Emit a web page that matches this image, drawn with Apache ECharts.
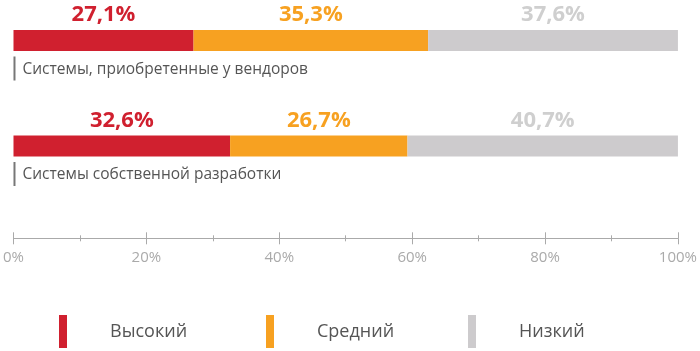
<!DOCTYPE html>
<html>
<head>
<meta charset="utf-8">
<script src="https://cdn.jsdelivr.net/npm/echarts@6/dist/echarts.min.js"></script>
<style>
    html, body { margin: 0; padding: 0; background: #fff; }
    #chart { width: 700px; height: 351px; }
</style>
</head>
<body>
<div id="chart"></div>
<script>
const categories = ['Системы, приобретенные у вендоров', 'Системы собственной разработки'];
const seriesNames = ['Высокий', 'Средний', 'Низкий'];
const high = [27.1, 32.6];
const medium = [35.3, 26.7];
const low = [37.6, 40.7];

const colors = ['#D0202F', '#F7A121', '#CDCBCD'];
const labelColors = ['#D0202F', '#F7A121', '#CFCFCF'];
const font = '"Open Sans", sans-serif';

const pct = (p) => String(p.value).replace('.', ',') + '%';

const axisLine = {
    show: true,
    lineStyle: { color: '#aaa', width: 1 }
}

const makeSeries = (name, data, i) => ({
    name,
    type: 'bar',
    stack: 'total',
    barWidth: 21,
    clip: false,
    data,
    itemStyle: { color: colors[i] },
    label: {
        show: true,
        position: 'top',
        distance: 4,
        formatter: pct,
        color: labelColors[i],
        fontFamily: font,
        fontWeight: 'bold',
        fontSize: 22
    }
})

const legendAt = (name, left) => ({
    data: [name],
    left,
    top: 315,
    padding: 0,
    icon: 'rect',
    itemWidth: 8,
    itemHeight: 33,
    selectedMode: false,
    textStyle: {
        fontFamily: font,
        fontSize: 18,
        color: '#555',
        padding: [0, 0, 0, 38]
    }
})

const option = {
    animation: false,
    grid: {
        left: 12.5,
        right: 21.5,
        top: 40.5,
        height: 105.5,
        containLabel: false
    },
    legend: [
        legendAt(seriesNames[0], 59),
        legendAt(seriesNames[1], 266),
        legendAt(seriesNames[2], 468)
    ],
    xAxis: [
        {
            type: 'value',
            position: 'bottom',
            offset: 92.3,
            min: 0,
            max: 100,
            interval: 20,
            axisLine,
            axisTick: { show: true, length: 6, lineStyle: { color: '#aaa' } },
            minorTick: { show: true, splitNumber: 2, length: 3, lineStyle: { color: '#aaa' } },
            splitLine: { show: false },
            axisLabel: {
                formatter: '{value}%',
                margin: 12,
                color: '#aaa',
                fontFamily: font,
                fontSize: 15
            }
        },
        {
            type: 'value',
            position: 'bottom',
            offset: 92.3,
            min: 0,
            max: 100,
            interval: 20,
            axisLine,
            axisTick: { show: true, inside: true, length: 6, lineStyle: { color: '#aaa' } },
            minorTick: { show: true, splitNumber: 2, length: 3, lineStyle: { color: '#aaa' } },
            splitLine: { show: false },
            axisLabel: { show: false }
        }
    ],
    yAxis: {
        type: 'category',
        inverse: true,
        boundaryGap: false,
        data: categories,
        axisLine: { show: false },
        axisTick: { show: false },
        axisLabel: {
            inside: true,
            margin: 0,
            verticalAlign: 'top',
            padding: [15, 0, 0, 0],
            formatter: (v) => '{b|}{t|' + v + '}',
            rich: {
                b: { width: 2, height: 24, backgroundColor: '#777' },
                t: {
                    fontFamily: font,
                    fontSize: 15.5,
                    color: '#555',
                    padding: [2, 0, 0, 7],
                    height: 24
                }
            }
        }
    },
    series: [
        makeSeries(seriesNames[0], high, 0),
        makeSeries(seriesNames[1], medium, 1),
        makeSeries(seriesNames[2], low, 2)
    ]
}

const chart = echarts.init(document.getElementById('chart'));
chart.setOption(option);
window.addEventListener('resize', () => {
    chart.resize();
})
</script>
</body>
</html>
